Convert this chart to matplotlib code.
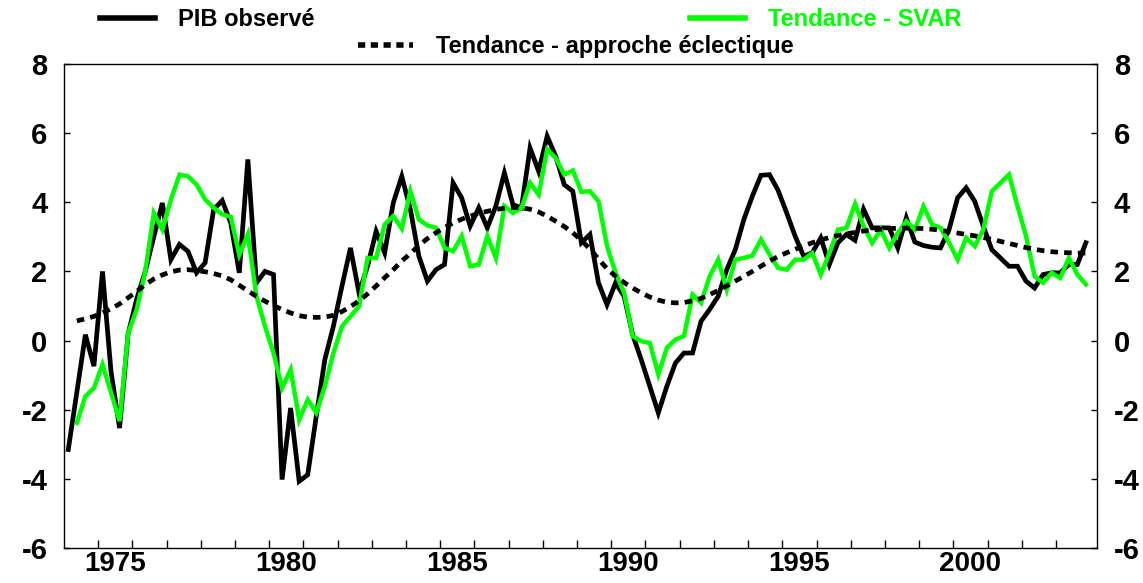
import numpy as np
import matplotlib
matplotlib.use("Agg")
import matplotlib.pyplot as plt
from matplotlib.lines import Line2D

plt.rcParams["font.family"] = ["Liberation Sans", "DejaVu Sans"]
plt.rcParams["font.weight"] = "bold"

# quarterly data, first quarter of 1974 onwards
start = 1974.125

pib_observe = [
    -3.15, -1.5, 0.17, -0.74, 2.0, -0.9, -2.53, 0.2, 1.2, 2.0,
    3.0, 3.98, 2.34, 2.78, 2.58, 1.96, 2.25, 3.79, 4.05, 3.40,
    1.96, 5.24, 1.67, 2.0, 1.91, -4.02, -1.95, -4.07, -3.88, -2.19,
    -0.55, 0.41, 1.57, 2.68, 1.38, 2.15, 3.16, 2.54, 3.98, 4.75,
    3.8, 2.44, 1.72, 2.05, 2.20, 4.56, 4.13, 3.31, 3.84, 3.26,
    3.89, 4.85, 3.93, 3.84, 5.57, 4.90, 5.91, 5.33, 4.51, 4.32,
    2.83, 3.07, 1.67, 1.04, 1.67, 1.28, 0.17, -0.55, -1.32, -2.09,
    -1.32, -0.65, -0.36, -0.36, 0.56, 0.90, 1.28, 2.05, 2.63, 3.50,
    4.18, 4.78, 4.80, 4.35, 3.70, 3.02, 2.44, 2.54, 2.97, 2.20,
    2.83, 3.07, 2.90, 3.80, 3.26, 3.26, 3.26, 2.68, 3.55, 2.85,
    2.75, 2.70, 2.68, 3.21, 4.13, 4.42, 4.03, 3.31, 2.63, 2.39,
    2.15, 2.15, 1.72, 1.52, 1.91, 1.96, 1.96, 2.20, 2.20, 2.83,
]

# SVAR and eclectic trends start one quarter later
tendance_svar = [
    -2.38, -1.61, -1.37, -0.69, -1.51, -2.33, 0.22, 0.9, 2.0,
    3.69, 3.21, 4.08, 4.80, 4.75, 4.51, 4.08, 3.84, 3.65, 3.58,
    2.48, 3.07, 1.28, 0.41, -0.36, -1.37, -0.84, -2.29, -1.71, -2.09,
    -1.32, -0.36, 0.41, 0.70, 0.99, 2.39, 2.39, 3.36, 3.60, 3.24,
    4.32, 3.50, 3.33, 3.26, 2.68, 2.58, 3.02, 2.15, 2.20, 3.02,
    2.39, 3.89, 3.69, 3.84, 4.56, 4.22, 5.53, 5.28, 4.80, 4.92,
    4.30, 4.32, 4.03, 2.73, 1.96, 1.38, 0.13, -0.02, -0.07, -0.98,
    -0.21, 0.03, 0.13, 1.33, 1.09, 1.86, 2.34, 1.48, 2.34, 2.39,
    2.46, 2.92, 2.49, 2.10, 2.05, 2.34, 2.34, 2.53, 1.91, 2.53,
    3.21, 3.26, 3.95, 3.31, 2.82, 3.21, 2.68, 3.11, 3.45, 3.21,
    3.88, 3.36, 3.26, 2.83, 2.34, 2.97, 2.73, 3.21, 4.32, 4.56,
    4.80, 3.89, 3.02, 1.86, 1.67, 1.96, 1.81, 2.39, 1.91, 1.62,
]

tendance_eclectique = [
    0.57, 0.63, 0.70, 0.80, 0.92, 1.06, 1.24, 1.42, 1.62,
    1.78, 1.90, 1.99, 2.04, 2.05, 2.03, 1.99, 1.94, 1.87, 1.76,
    1.60, 1.44, 1.28, 1.14, 1.01, 0.90, 0.80, 0.72, 0.68, 0.67,
    0.68, 0.73, 0.84, 0.98, 1.15, 1.35, 1.58, 1.82, 2.05, 2.30,
    2.52, 2.75, 2.95, 3.12, 3.27, 3.40, 3.51, 3.60, 3.68, 3.74,
    3.79, 3.83, 3.85, 3.84, 3.80, 3.72, 3.60, 3.45, 3.30, 3.12,
    2.90, 2.65, 2.36, 2.08, 1.86, 1.68, 1.52, 1.38, 1.26, 1.17,
    1.11, 1.09, 1.10, 1.15, 1.22, 1.33, 1.45, 1.58, 1.72, 1.86,
    2.00, 2.15, 2.30, 2.43, 2.54, 2.64, 2.74, 2.83, 2.91, 2.98,
    3.04, 3.09, 3.13, 3.17, 3.20, 3.22, 3.24, 3.25, 3.25, 3.25,
    3.24, 3.22, 3.19, 3.15, 3.11, 3.07, 3.03, 2.98, 2.93, 2.87,
    2.81, 2.75, 2.69, 2.64, 2.60, 2.57, 2.55, 2.54, 2.53, 2.53,
]

years = list(range(1975, 2004))
year_labels = [1975, 1980, 1985, 1990, 1995, 2000]
y_ticks = [8, 6, 4, 2, 0, -2, -4, -6]

t_pib = start + 0.25 * np.arange(len(pib_observe))
t_svar = t_pib[1:1 + len(tendance_svar)]
t_ecl = t_pib[1:1 + len(tendance_eclectique)]

fig = plt.figure(figsize=(11.43, 5.83), dpi=100)
ax = fig.add_axes([64 / 1143, 35 / 583, 1033 / 1143, 484 / 583])

ax.plot(t_pib, pib_observe, color="black", lw=3.4, zorder=3, solid_joinstyle="miter")
ax.plot(t_svar, tendance_svar, color="#00ff00", lw=3.2, zorder=4, solid_joinstyle="miter")
ax.plot(t_ecl, tendance_eclectique, color="black", lw=3.4, zorder=5,
        linestyle=(0, (1.6, 1.3)))

ax.set_xlim(1974.0, 2004.2)
ax.set_ylim(-6, 8)

ax.set_yticks(y_ticks)
ax.set_yticklabels([str(v) for v in y_ticks])
ax.tick_params(axis="y", which="major", direction="in", length=4, width=1,
               left=True, right=True, labelleft=True, labelright=True,
               labelsize=21, pad=12)

ax.set_xticks([y + 0.5 for y in year_labels])
ax.set_xticklabels([str(y) for y in year_labels])
ax.set_xticks(years, minor=True)
ax.tick_params(axis="x", which="major", length=0, labelsize=20, pad=2)
ax.tick_params(axis="x", which="minor", direction="in", length=6, width=1,
               bottom=True, top=False)

for sp in ax.spines.values():
    sp.set_linewidth(1.0)

# legend in three pieces, as in the original layout
h_pib = Line2D([], [], color="black", lw=4)
h_svar = Line2D([], [], color="#00ff00", lw=4)
h_ecl = Line2D([], [], color="black", lw=4, linestyle=(0, (1.3, 1.0)))

common = dict(frameon=False, borderpad=0, borderaxespad=0, handlelength=2.35,
              handletextpad=0.95, prop={"weight": "bold", "size": 17})
leg1 = fig.legend([h_pib], ["PIB observé"], loc="center left",
                  bbox_to_anchor=(100 / 1143, 1 - 20 / 583), **common)
leg2 = fig.legend([h_svar], ["Tendance - SVAR"], loc="center left",
                  bbox_to_anchor=(690 / 1143, 1 - 20 / 583), **common)
leg2.get_texts()[0].set_color("#00ff00")
leg3 = fig.legend([h_ecl], ["Tendance - approche éclectique"], loc="center left",
                  bbox_to_anchor=(358 / 1143, 1 - 47 / 583), **common)

fig.savefig("out.png", dpi=100)
